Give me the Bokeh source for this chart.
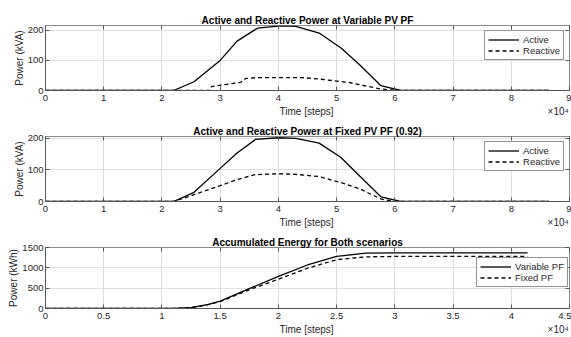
from bokeh.plotting import figure
from bokeh.layouts import column
from bokeh.models import FixedTicker, Legend, LegendItem, LinearAxis
from bokeh.embed import file_html
from bokeh.resources import INLINE

FONT = "Liberation Sans"

# ---------------- data ----------------
# Panel 1: Variable PV PF
x_act_var = [0, 22000, 25500, 30000, 32900, 36400, 40400, 43000, 47000, 50700, 54000, 57600, 61000, 86500]
p_act_var = [0, 0, 29, 100, 164, 207, 215, 213, 191, 142, 85, 16, 0, 0]
x_rea_var = [0, 28300, 28500, 33500, 34400, 36400, 40400, 44000, 47000, 52000, 57600, 60500, 86500]
p_rea_var = [0, 0, 13, 27, 40, 43, 43, 43, 38, 27, 5, 0, 0]

# Panel 2: Fixed PV PF (0.92)
x_act_fix = [0, 22000, 25500, 30000, 32900, 36100, 40000, 43000, 47000, 50700, 54000, 57600, 61000, 86500]
p_act_fix = [0, 0, 29, 105, 154, 197, 202, 200, 185, 140, 80, 15, 0, 0]
x_rea_fix = [0, 22000, 24300, 30000, 33000, 36000, 40000, 43000, 47000, 50700, 54000, 57600, 60000, 86500]
p_rea_fix = [0, 0, 14, 50, 70, 85, 88, 86, 79, 60, 40, 8, 0, 0]

# Panel 3: Accumulated energy
x_energy = [0, 10000, 11000, 12500, 14000, 15000, 17500, 20000, 22500, 25000, 27500, 30000, 41400]
e_var = [0, 0, 3, 20, 100, 180, 490, 790, 1070, 1280, 1360, 1370, 1370]
e_fix = [0, 0, 3, 20, 95, 170, 460, 720, 990, 1200, 1270, 1280, 1280]

ticks_a = [0, 10000, 20000, 30000, 40000, 50000, 60000, 70000, 80000, 90000]
labels_a = ["0", "1", "2", "3", "4", "5", "6", "7", "8", "9"]
ticks_b = [0, 5000, 10000, 15000, 20000, 25000, 30000, 35000, 40000, 45000]
labels_b = ["0", "0.5", "1", "1.5", "2", "2.5", "3", "3.5", "4", "4.5"]

XLABEL = "Time [steps]"
XEXP = "\u00d710\u2074"
NB = "\u00a0"
# x label centred on the axis, exponent note flush with the right end of the axis
XLABEL_FULL = NB * 84 + XLABEL + NB * 77 + XEXP


def style_axis(ax):
    ax.major_label_text_font = FONT
    ax.major_label_text_font_size = "9.5px"
    ax.major_label_text_color = "#262626"
    ax.major_label_text_line_height = 1.0
    ax.axis_label_text_font = FONT
    ax.axis_label_text_font_size = "10px"
    ax.axis_label_text_font_style = "normal"
    ax.axis_label_text_color = "#262626"
    ax.axis_label_text_line_height = 1.0
    ax.axis_line_color = "#555555"
    ax.major_tick_line_color = "#555555"
    ax.major_tick_in = 4
    ax.major_tick_out = 0
    ax.minor_tick_line_color = None


def make_fig(height, title, xmax, ymax, xticks, xlabels, yticks, ylabel, top, bottom):
    p = figure(width=571, height=height, x_range=(0, xmax), y_range=(0, ymax),
               output_backend="svg", toolbar_location=None,
               min_border_left=45, min_border_right=2, min_border_top=top,
               min_border_bottom=bottom)
    p.title.text = title
    p.title.align = "center"
    p.title.text_font = FONT
    p.title.text_font_size = "10px"
    p.title.text_font_style = "bold"
    p.title.text_color = "#000000"
    p.title.standoff = 0
    p.outline_line_color = "#8a8a8a"
    p.outline_line_width = 1
    for ax in (p.xaxis[0], p.yaxis[0]):
        style_axis(ax)
    p.xaxis.major_label_standoff = 4
    p.xaxis.axis_label_standoff = 2
    p.yaxis.major_label_standoff = 2
    p.yaxis.axis_label_standoff = 0
    p.xaxis.ticker = FixedTicker(ticks=xticks)
    p.xaxis.major_label_overrides = {t: l for t, l in zip(xticks, xlabels)}
    p.xaxis.axis_label = XLABEL_FULL
    p.yaxis.ticker = FixedTicker(ticks=yticks)
    p.yaxis.axis_label = ylabel
    p.grid.grid_line_color = "#dedede"
    p.xgrid.ticker = FixedTicker(ticks=xticks)
    p.ygrid.ticker = FixedTicker(ticks=yticks)
    # box ticks on the top and right edges (labels switched off)
    for side, ticks in (("above", xticks), ("right", yticks)):
        ax = LinearAxis(ticker=FixedTicker(ticks=ticks))
        ax.major_label_text_color = None
        ax.major_label_text_font_size = "1px"
        ax.major_label_standoff = 0
        ax.axis_line_color = None
        ax.major_tick_line_color = "#555555"
        ax.major_tick_in = 4
        ax.major_tick_out = 0
        ax.minor_tick_line_color = None
        p.add_layout(ax, side)
    return p


def style_legend(p, items, location):
    leg = Legend(items=items, location=location)
    leg.label_text_font = FONT
    leg.label_text_font_size = "9.5px"
    leg.label_text_color = "#262626"
    leg.border_line_color = "#262626"
    leg.border_line_width = 1
    leg.background_fill_alpha = 1
    leg.padding = 3
    leg.spacing = 0
    leg.margin = 5
    leg.label_height = 11
    leg.glyph_height = 11
    leg.glyph_width = 31
    leg.label_standoff = 4
    p.add_layout(leg)


# ---- panel 1 ----
p1 = make_fig(123, "Active and Reactive Power at Variable PV PF", 90000, 216,
              ticks_a, labels_a, [0, 100, 200], "Power (kVA)", 25, 33)
a1 = p1.line(x_act_var, p_act_var, line_color="black", line_width=1.3)
r1 = p1.line(x_rea_var, p_rea_var, line_color="black", line_width=1.3, line_dash="4 3")
style_legend(p1, [LegendItem(label="Active", renderers=[a1]),
                  LegendItem(label="Reactive", renderers=[r1])], "top_right")

# ---- panel 2 ----
p2 = make_fig(111, "Active and Reactive Power at Fixed PV PF (0.92)", 90000, 206,
              ticks_a, labels_a, [0, 100, 200], "Power (kVA)", 12, 33)
a2 = p2.line(x_act_fix, p_act_fix, line_color="black", line_width=1.3)
r2 = p2.line(x_rea_fix, p_rea_fix, line_color="black", line_width=1.3, line_dash="4 3")
style_legend(p2, [LegendItem(label="Active", renderers=[a2]),
                  LegendItem(label="Reactive", renderers=[r2])], "top_right")

# ---- panel 3 ----
p3 = make_fig(103, "Accumulated Energy for Both scenarios", 45000, 1500,
              ticks_b, labels_b, [0, 500, 1000, 1500], "Power (kWh)", 12, 25)
v3 = p3.line(x_energy, e_var, line_color="black", line_width=1.3)
f3 = p3.line(x_energy, e_fix, line_color="black", line_width=1.3, line_dash="4 3")
style_legend(p3, [LegendItem(label="Variable PF", renderers=[v3]),
                  LegendItem(label="Fixed PF", renderers=[f3])], (431, 21))

layout = column(p1, p2, p3, spacing=0)
open("out.html", "w").write(file_html(layout, INLINE))
